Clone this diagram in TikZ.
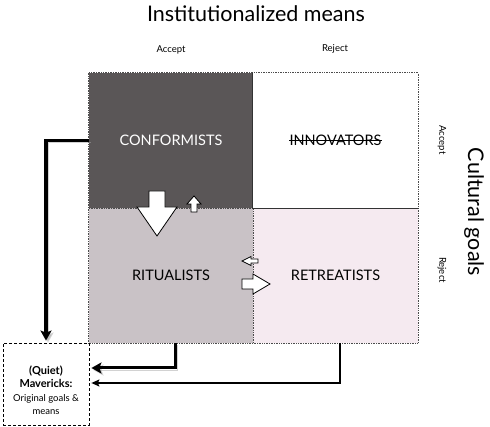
\documentclass[tikz,border=0pt]{standalone}
\usepackage{fontspec}
\setmainfont{Lato}
\usetikzlibrary{arrows.meta}
\definecolor{confgray}{HTML}{5A5657}
\definecolor{ritgray}{HTML}{C9C2C6}
\definecolor{retpink}{HTML}{F5EAF0}
\tikzset{
  cell/.style={minimum width=164pt, minimum height=135pt, inner sep=0pt},
  celltext/.style={inner sep=0pt, font=\fontsize{14.5}{17}\selectfont},
  axislabel/.style={font=\fontsize{21.5}{26}\selectfont},
  sidelabel/.style={font=\fontsize{9.5}{11}\selectfont},
  blockarrow/.style={draw=black, fill=white, line width=0.8pt, line join=miter},
  gridline/.style={black!70, densely dotted, line width=0.7pt},
  flowline/.style={-{Stealth[length=10pt,width=11pt,inset=2pt]}, line join=miter,
    preaction={draw=black!35, opacity=0.5, transform canvas={shift={(2pt,-2pt)}}}},
  thinflow/.style={-{Stealth[length=8pt,width=7pt,inset=1.5pt]}, line width=1.3pt, line join=miter}
}
\begin{document}
\begin{tikzpicture}[x=1pt,y=-1pt]
    \useasboundingbox (0,0) rectangle (490,427);
    % the four cells
    \node[cell, fill=confgray] (conf) at (171,140.5) {};
    \node[cell, minimum width=165pt] (inno) at (335.5,140.5) {};
    \node[cell, fill=ritgray] (rit) at (171,275.5) {};
    \node[cell, minimum width=165pt, fill=retpink] (retr) at (335.5,275.5) {};
    \node[celltext, text=white] (conftxt) at (conf) {CONFORMISTS};
    \node[celltext] (innotxt) at (inno) {INNOVATORS};
    \node[celltext] (rittxt) at (rit) {RITUALISTS};
    \node[celltext] (retrtxt) at (retr) {RETREATISTS};
    \draw[line width=0.6pt] (innotxt.west) -- (innotxt.east);
    % borders
    \draw[gridline] (conf.north west) rectangle (retr.south east);
    \draw[gridline] (conf.south west) -- (conf.south east);
    \draw[gridline] (rit.north east) -- (rit.south east);
    \draw[black!80, line width=0.8pt] (inno.north west) -- (inno.south west) -- ([xshift=1pt]inno.south east);
    % axis labels
    \node[axislabel] (means) at (256,14) {Institutionalized means};
    \node[sidelabel] (macc) at (171,50) {Accept};
    \node[sidelabel] (mrej) at (335,49) {Reject};
    \node[axislabel, rotate=-90] (goals) at (474,212) {Cultural goals};
    \node[sidelabel, rotate=-90] (gacc) at (442,140) {Accept};
    \node[sidelabel, rotate=-90] (grej) at (442,270) {Reject};
    % block arrows between cells
    \draw[blockarrow] (149,191) -- (165,191) -- (165,207) -- (177,207) -- (157,236) -- (137,207) -- (149,207) -- cycle;
    \draw[blockarrow] (191,212) -- (197,212) -- (197,204) -- (201,204) -- (194,196) -- (187,204) -- (191,204) -- cycle;
    \draw[blockarrow] (242,261) -- (251,256.5) -- (251,259) -- (258,259) -- (258,263) -- (251,263) -- (251,265.5) -- cycle;
    \draw[blockarrow] (242,279) -- (253,279) -- (253,274) -- (270,284) -- (253,294) -- (253,289) -- (242,289) -- cycle;
    % mavericks
    \node[draw, densely dashed, line width=0.8pt, minimum width=86pt, minimum height=82pt] (mav) at (46,384) {};
    \node[align=center, inner sep=0pt, font=\fontsize{9.5}{13.5}\selectfont] (mavtxt) at (46,390)
        {{\fontsize{11}{13.5}\selectfont\bfseries (Quiet)}\\{\fontsize{11}{13.5}\selectfont\bfseries Mavericks:}\\Original goals \&\\means};
    \draw[flowline, line width=3.5pt, shorten >=2pt] (conf.west) -| (mav.north);
    \draw[flowline, line width=3pt, shorten >=2pt] ([xshift=4pt]rit.south) |- ([yshift=16pt]mav.east);
    \draw[thinflow, shorten >=2pt] ([xshift=4.5pt]retr.south) |- ([yshift=1pt]mav.east);
\end{tikzpicture}
\end{document}
